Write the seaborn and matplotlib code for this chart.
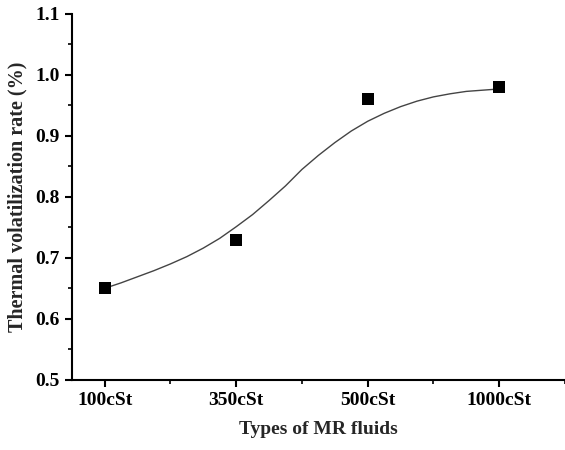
import numpy as np
import pandas as pd
import matplotlib.pyplot as plt
import seaborn as sns
from matplotlib.ticker import MultipleLocator, FormatStrFormatter

# data
fluids = ['100cSt', '350cSt', '500cSt', '1000cSt']
fluid_pos = [1, 2, 3, 4]
rate = [0.65, 0.73, 0.96, 0.98]

# fitted curve
fit_x = [1.0, 1.125, 1.25, 1.375, 1.5, 1.625, 1.75, 1.875, 2.0, 2.125, 2.25, 2.375, 2.5,
         2.625, 2.75, 2.875, 3.0, 3.125, 3.25, 3.375, 3.5, 3.625, 3.75, 3.875, 4.0]
fit_y = [0.650, 0.659, 0.669, 0.679, 0.690, 0.702, 0.716, 0.732, 0.751, 0.771, 0.794, 0.818, 0.845,
         0.868, 0.889, 0.908, 0.924, 0.937, 0.948, 0.957, 0.964, 0.969, 0.973, 0.975, 0.977]

pts = pd.DataFrame({'pos': fluid_pos, 'rate': rate})
fit = pd.DataFrame({'x': fit_x, 'y': fit_y})

sns.set_style("ticks")
plt.rcParams['font.family'] = ['Liberation Serif', 'DejaVu Serif']
plt.rcParams['font.weight'] = 'bold'

fig = plt.figure(figsize=(5.65, 4.5), dpi=100)
ax = fig.add_axes([0.127, 0.156, 0.873, 0.813])

sns.lineplot(data=fit, x='x', y='y', ax=ax, color='#444444', linewidth=1.0)
sns.scatterplot(data=pts, x='pos', y='rate', ax=ax, marker='s', s=80,
                color='black', edgecolor='black', linewidth=0, zorder=3)

ax.set_xlim(0.75, 4.5)
ax.set_ylim(0.5, 1.1)
ax.set_xticks(fluid_pos)
ax.set_xticklabels(fluids)
ax.xaxis.set_minor_locator(MultipleLocator(0.5))
ax.yaxis.set_major_locator(MultipleLocator(0.1))
ax.yaxis.set_minor_locator(MultipleLocator(0.05))
ax.yaxis.set_major_formatter(FormatStrFormatter('%.1f'))

for s in ['top', 'right']:
    ax.spines[s].set_visible(False)
for s in ['left', 'bottom']:
    ax.spines[s].set_linewidth(1.5)
    ax.spines[s].set_color('black')

ax.tick_params(which='major', length=5, width=1.5, direction='out', labelsize=14, colors='black')
ax.tick_params(which='minor', length=3, width=1.2, direction='out', colors='black')
for lab in ax.get_xticklabels() + ax.get_yticklabels():
    lab.set_fontweight('bold')

ax.set_xlabel('Types of MR fluids', fontsize=14, fontweight='bold', labelpad=9)
ax.set_ylabel('Thermal volatilization rate (%)', fontsize=14.5, fontweight='bold', labelpad=6)

fig.savefig('out.png', dpi=100)
